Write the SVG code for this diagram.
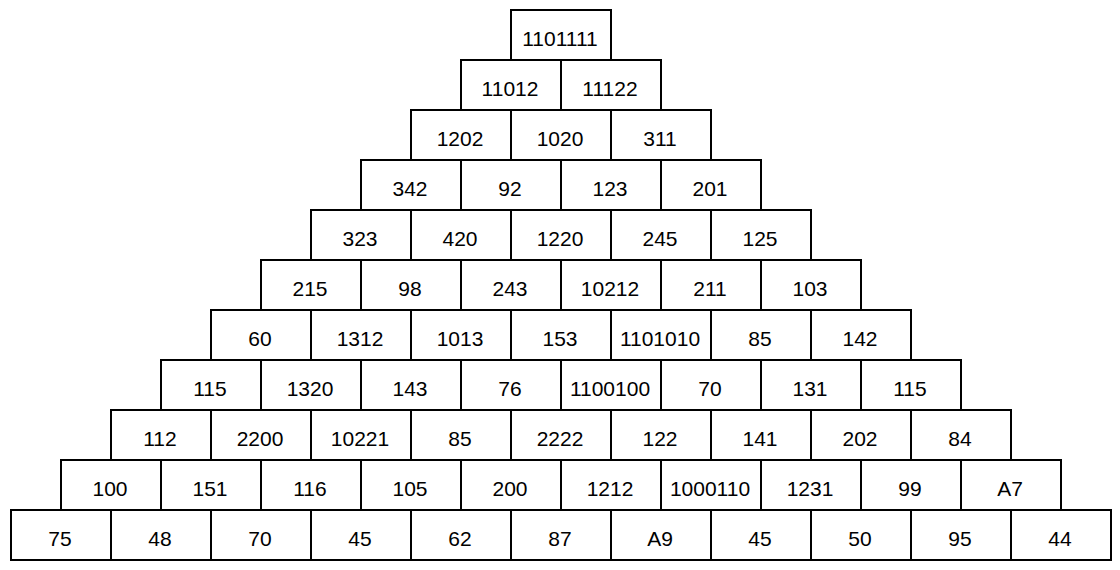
<svg xmlns="http://www.w3.org/2000/svg" width="1120" height="570" viewBox="0 0 1120 570">
<style>
rect{fill:#fff;stroke:#000;stroke-width:2}
text{font-family:"Liberation Sans",Arial,sans-serif;font-size:21px;fill:#000;text-anchor:middle}
</style>
<rect x="0" y="0" width="1120" height="570" style="stroke:none"/>
<g id="r0">
<g id="n0_0"><rect x="511" y="10" width="100" height="50"/><text x="560" y="46">1101111</text></g>
</g>
<g id="r1">
<g id="n1_0"><rect x="461" y="60" width="100" height="50"/><text x="510" y="96">11012</text></g>
<g id="n1_1"><rect x="561" y="60" width="100" height="50"/><text x="610" y="96">11122</text></g>
</g>
<g id="r2">
<g id="n2_0"><rect x="411" y="110" width="100" height="50"/><text x="460" y="146">1202</text></g>
<g id="n2_1"><rect x="511" y="110" width="100" height="50"/><text x="560" y="146">1020</text></g>
<g id="n2_2"><rect x="611" y="110" width="100" height="50"/><text x="660" y="146">311</text></g>
</g>
<g id="r3">
<g id="n3_0"><rect x="361" y="160" width="100" height="50"/><text x="410" y="196">342</text></g>
<g id="n3_1"><rect x="461" y="160" width="100" height="50"/><text x="510" y="196">92</text></g>
<g id="n3_2"><rect x="561" y="160" width="100" height="50"/><text x="610" y="196">123</text></g>
<g id="n3_3"><rect x="661" y="160" width="100" height="50"/><text x="710" y="196">201</text></g>
</g>
<g id="r4">
<g id="n4_0"><rect x="311" y="210" width="100" height="50"/><text x="360" y="246">323</text></g>
<g id="n4_1"><rect x="411" y="210" width="100" height="50"/><text x="460" y="246">420</text></g>
<g id="n4_2"><rect x="511" y="210" width="100" height="50"/><text x="560" y="246">1220</text></g>
<g id="n4_3"><rect x="611" y="210" width="100" height="50"/><text x="660" y="246">245</text></g>
<g id="n4_4"><rect x="711" y="210" width="100" height="50"/><text x="760" y="246">125</text></g>
</g>
<g id="r5">
<g id="n5_0"><rect x="261" y="260" width="100" height="50"/><text x="310" y="296">215</text></g>
<g id="n5_1"><rect x="361" y="260" width="100" height="50"/><text x="410" y="296">98</text></g>
<g id="n5_2"><rect x="461" y="260" width="100" height="50"/><text x="510" y="296">243</text></g>
<g id="n5_3"><rect x="561" y="260" width="100" height="50"/><text x="610" y="296">10212</text></g>
<g id="n5_4"><rect x="661" y="260" width="100" height="50"/><text x="710" y="296">211</text></g>
<g id="n5_5"><rect x="761" y="260" width="100" height="50"/><text x="810" y="296">103</text></g>
</g>
<g id="r6">
<g id="n6_0"><rect x="211" y="310" width="100" height="50"/><text x="260" y="346">60</text></g>
<g id="n6_1"><rect x="311" y="310" width="100" height="50"/><text x="360" y="346">1312</text></g>
<g id="n6_2"><rect x="411" y="310" width="100" height="50"/><text x="460" y="346">1013</text></g>
<g id="n6_3"><rect x="511" y="310" width="100" height="50"/><text x="560" y="346">153</text></g>
<g id="n6_4"><rect x="611" y="310" width="100" height="50"/><text x="660" y="346">1101010</text></g>
<g id="n6_5"><rect x="711" y="310" width="100" height="50"/><text x="760" y="346">85</text></g>
<g id="n6_6"><rect x="811" y="310" width="100" height="50"/><text x="860" y="346">142</text></g>
</g>
<g id="r7">
<g id="n7_0"><rect x="161" y="360" width="100" height="50"/><text x="210" y="396">115</text></g>
<g id="n7_1"><rect x="261" y="360" width="100" height="50"/><text x="310" y="396">1320</text></g>
<g id="n7_2"><rect x="361" y="360" width="100" height="50"/><text x="410" y="396">143</text></g>
<g id="n7_3"><rect x="461" y="360" width="100" height="50"/><text x="510" y="396">76</text></g>
<g id="n7_4"><rect x="561" y="360" width="100" height="50"/><text x="610" y="396">1100100</text></g>
<g id="n7_5"><rect x="661" y="360" width="100" height="50"/><text x="710" y="396">70</text></g>
<g id="n7_6"><rect x="761" y="360" width="100" height="50"/><text x="810" y="396">131</text></g>
<g id="n7_7"><rect x="861" y="360" width="100" height="50"/><text x="910" y="396">115</text></g>
</g>
<g id="r8">
<g id="n8_0"><rect x="111" y="410" width="100" height="50"/><text x="160" y="446">112</text></g>
<g id="n8_1"><rect x="211" y="410" width="100" height="50"/><text x="260" y="446">2200</text></g>
<g id="n8_2"><rect x="311" y="410" width="100" height="50"/><text x="360" y="446">10221</text></g>
<g id="n8_3"><rect x="411" y="410" width="100" height="50"/><text x="460" y="446">85</text></g>
<g id="n8_4"><rect x="511" y="410" width="100" height="50"/><text x="560" y="446">2222</text></g>
<g id="n8_5"><rect x="611" y="410" width="100" height="50"/><text x="660" y="446">122</text></g>
<g id="n8_6"><rect x="711" y="410" width="100" height="50"/><text x="760" y="446">141</text></g>
<g id="n8_7"><rect x="811" y="410" width="100" height="50"/><text x="860" y="446">202</text></g>
<g id="n8_8"><rect x="911" y="410" width="100" height="50"/><text x="960" y="446">84</text></g>
</g>
<g id="r9">
<g id="n9_0"><rect x="61" y="460" width="100" height="50"/><text x="110" y="496">100</text></g>
<g id="n9_1"><rect x="161" y="460" width="100" height="50"/><text x="210" y="496">151</text></g>
<g id="n9_2"><rect x="261" y="460" width="100" height="50"/><text x="310" y="496">116</text></g>
<g id="n9_3"><rect x="361" y="460" width="100" height="50"/><text x="410" y="496">105</text></g>
<g id="n9_4"><rect x="461" y="460" width="100" height="50"/><text x="510" y="496">200</text></g>
<g id="n9_5"><rect x="561" y="460" width="100" height="50"/><text x="610" y="496">1212</text></g>
<g id="n9_6"><rect x="661" y="460" width="100" height="50"/><text x="710" y="496">1000110</text></g>
<g id="n9_7"><rect x="761" y="460" width="100" height="50"/><text x="810" y="496">1231</text></g>
<g id="n9_8"><rect x="861" y="460" width="100" height="50"/><text x="910" y="496">99</text></g>
<g id="n9_9"><rect x="961" y="460" width="100" height="50"/><text x="1010" y="496">A7</text></g>
</g>
<g id="r10">
<g id="n10_0"><rect x="11" y="510" width="100" height="50"/><text x="60" y="546">75</text></g>
<g id="n10_1"><rect x="111" y="510" width="100" height="50"/><text x="160" y="546">48</text></g>
<g id="n10_2"><rect x="211" y="510" width="100" height="50"/><text x="260" y="546">70</text></g>
<g id="n10_3"><rect x="311" y="510" width="100" height="50"/><text x="360" y="546">45</text></g>
<g id="n10_4"><rect x="411" y="510" width="100" height="50"/><text x="460" y="546">62</text></g>
<g id="n10_5"><rect x="511" y="510" width="100" height="50"/><text x="560" y="546">87</text></g>
<g id="n10_6"><rect x="611" y="510" width="100" height="50"/><text x="660" y="546">A9</text></g>
<g id="n10_7"><rect x="711" y="510" width="100" height="50"/><text x="760" y="546">45</text></g>
<g id="n10_8"><rect x="811" y="510" width="100" height="50"/><text x="860" y="546">50</text></g>
<g id="n10_9"><rect x="911" y="510" width="100" height="50"/><text x="960" y="546">95</text></g>
<g id="n10_10"><rect x="1011" y="510" width="100" height="50"/><text x="1060" y="546">44</text></g>
</g>
</svg>
